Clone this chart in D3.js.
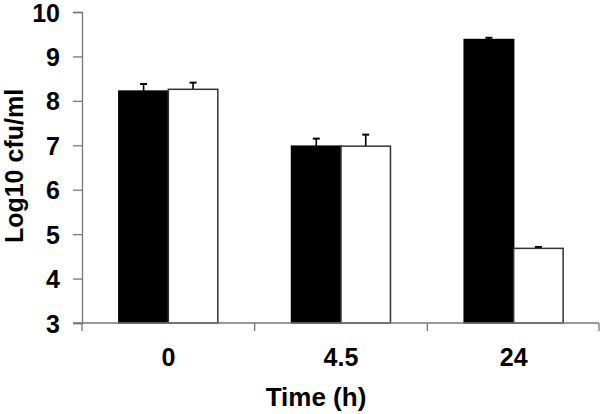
<!DOCTYPE html>
<html>
<head>
<meta charset="utf-8">
<script src="https://cdn.jsdelivr.net/npm/d3@7"></script>
<style>
  body { margin: 0; background: #fff; }
  text { font-family: "Liberation Sans", Arial, sans-serif; font-weight: bold; fill: #000; }
</style>
</head>
<body>
<div id="chart"></div>
<script>
const times = ["0", "4.5", "24"];
const seriesNames = ["black", "white"];
const blackValues = [8.22, 6.98, 9.38];
const whiteValues = [8.26, 6.98, 4.68];
const blackErrors = [0.16, 0.17, 0.04];
const whiteErrors = [0.15, 0.26, 0.03];
const yTicks = [3, 4, 5, 6, 7, 8, 9, 10];

const width = 600, height = 414;
const margin = {left: 82, right: 0, top: 12, bottom: 91};

const svg = d3.select("#chart").append("svg")
  .attr("width", width)
  .attr("height", height);

const x0 = d3.scaleBand()
  .domain(times)
  .range([margin.left, width - margin.right])
  .paddingInner(0.427)
  .paddingOuter(0.2135);

const x1 = d3.scaleBand()
  .domain(seriesNames)
  .range([0, x0.bandwidth()]);

const y = d3.scaleLinear()
  .domain([3, 10])
  .range([height - margin.bottom, margin.top]);

const rows = times.map((t, i) => ({
  time: t,
  bars: [
    {key: "black", value: blackValues[i], err: blackErrors[i]},
    {key: "white", value: whiteValues[i], err: whiteErrors[i]}
  ]
}));

// error bars first, bars cover the lower half
const groups = svg.selectAll(".grp").data(rows).enter()
  .append("g")
  .attr("transform", d => `translate(${x0(d.time)},0)`);

const eb = groups.selectAll(".err").data(d => d.bars).enter().append("g");
eb.append("line")
  .attr("x1", d => x1(d.key) + x1.bandwidth() / 2)
  .attr("x2", d => x1(d.key) + x1.bandwidth() / 2)
  .attr("y1", d => y(d.value))
  .attr("y2", d => y(d.value + d.err))
  .attr("stroke", "#000").attr("stroke-width", 1.6);
eb.append("line")
  .attr("x1", d => x1(d.key) + x1.bandwidth() / 2 - 3.5)
  .attr("x2", d => x1(d.key) + x1.bandwidth() / 2 + 3.5)
  .attr("y1", d => y(d.value + d.err))
  .attr("y2", d => y(d.value + d.err))
  .attr("stroke", "#000").attr("stroke-width", 2);

groups.selectAll("rect").data(d => d.bars).enter()
  .append("rect")
  .attr("x", d => x1(d.key))
  .attr("width", x1.bandwidth())
  .attr("y", d => y(d.value))
  .attr("height", d => y(3) - y(d.value))
  .attr("fill", d => d.key === "black" ? "#000" : "#fff")
  .attr("stroke", d => d.key === "black" ? "#000" : "#333")
  .attr("stroke-width", 1.5);

// y axis
const yAxis = svg.append("g")
  .attr("transform", `translate(${margin.left},0)`)
  .call(d3.axisLeft(y).tickValues(yTicks).tickSize(9).tickPadding(13).tickFormat(d3.format("d")));
yAxis.attr("font-family", null).attr("font-size", null);
yAxis.select(".domain").attr("stroke", "#777").attr("stroke-width", 1.3);
yAxis.selectAll(".tick line").attr("stroke", "#777").attr("stroke-width", 1.3);
yAxis.selectAll(".tick text")
  .style("font-size", "25px")
  .attr("dy", "0.36em");

// x axis: line with ticks at category boundaries
const xAxisG = svg.append("g");
const yBase = y(3);
xAxisG.append("line")
  .attr("x1", margin.left - 9).attr("x2", width - 1)
  .attr("y1", yBase).attr("y2", yBase)
  .attr("stroke", "#777").attr("stroke-width", 1.3);
const bounds = times.map(t => x0(t) - x0.step() * x0.paddingOuter()).concat([width - 1]);
xAxisG.selectAll(".xt").data(bounds).enter().append("line")
  .attr("x1", d => d).attr("x2", d => d)
  .attr("y1", yBase).attr("y2", yBase + 8)
  .attr("stroke", "#777").attr("stroke-width", 1.3);
xAxisG.selectAll(".xl").data(times).enter().append("text")
  .attr("text-anchor", "middle")
  .style("font-size", "25px")
  .attr("x", d => x0(d) + x0.bandwidth() / 2)
  .attr("y", 366)
  .text(d => d);

// axis titles
svg.append("text")
  .attr("text-anchor", "middle")
  .style("font-size", "26px")
  .attr("x", 316).attr("y", 406)
  .text("Time (h)");

svg.append("text")
  .attr("text-anchor", "middle")
  .style("font-size", "25px")
  .attr("transform", "translate(23,166) rotate(-90)")
  .text("Log10 cfu/ml");
</script>
</body>
</html>
